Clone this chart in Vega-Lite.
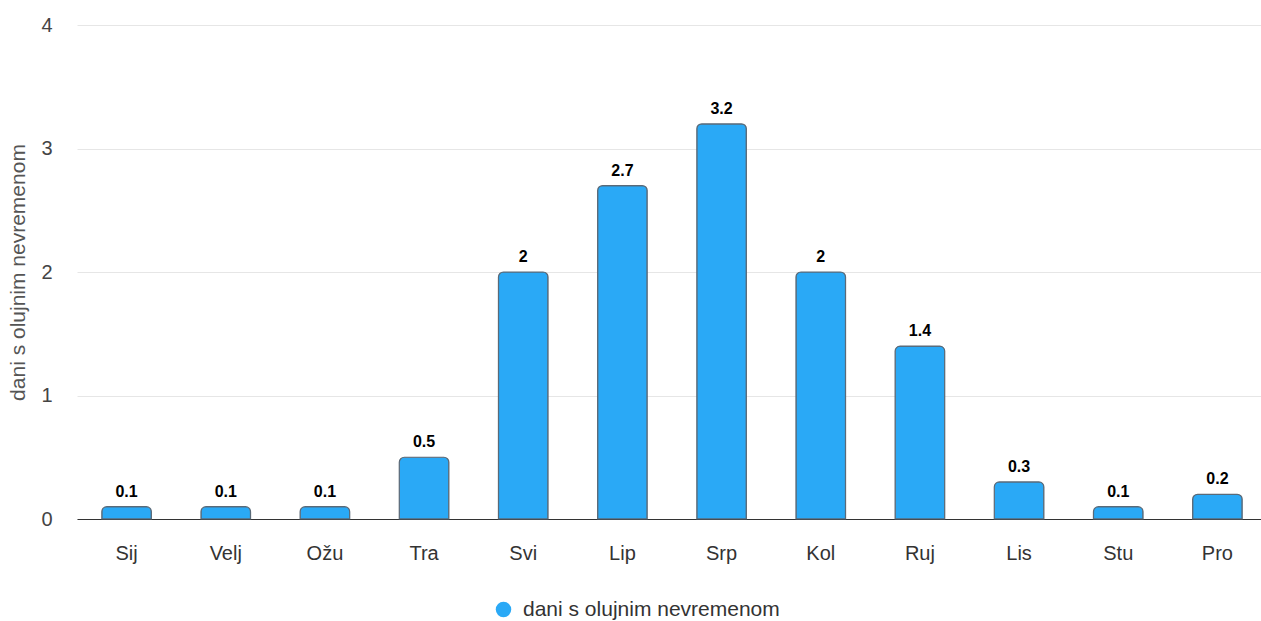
{
  "$schema": "https://vega.github.io/schema/vega-lite/v6.json",
  "width": 1184,
  "height": 494,
  "autosize": {"type": "none"},
  "padding": {"left": 77, "top": 25, "right": 0, "bottom": 102},
  "background": "white",
  "config": {
    "font": "Liberation Sans",
    "view": {"stroke": null}
  },
  "data": {
    "values": [
      {"mjesec": "Sij", "vrijednost": 0.1, "serija": "dani s olujnim nevremenom"},
      {"mjesec": "Velj", "vrijednost": 0.1, "serija": "dani s olujnim nevremenom"},
      {"mjesec": "Ožu", "vrijednost": 0.1, "serija": "dani s olujnim nevremenom"},
      {"mjesec": "Tra", "vrijednost": 0.5, "serija": "dani s olujnim nevremenom"},
      {"mjesec": "Svi", "vrijednost": 2, "serija": "dani s olujnim nevremenom"},
      {"mjesec": "Lip", "vrijednost": 2.7, "serija": "dani s olujnim nevremenom"},
      {"mjesec": "Srp", "vrijednost": 3.2, "serija": "dani s olujnim nevremenom"},
      {"mjesec": "Kol", "vrijednost": 2, "serija": "dani s olujnim nevremenom"},
      {"mjesec": "Ruj", "vrijednost": 1.4, "serija": "dani s olujnim nevremenom"},
      {"mjesec": "Lis", "vrijednost": 0.3, "serija": "dani s olujnim nevremenom"},
      {"mjesec": "Stu", "vrijednost": 0.1, "serija": "dani s olujnim nevremenom"},
      {"mjesec": "Pro", "vrijednost": 0.2, "serija": "dani s olujnim nevremenom"}
    ]
  },
  "encoding": {
    "x": {
      "field": "mjesec",
      "type": "nominal",
      "sort": null,
      "scale": {"range": [0, 1190], "paddingInner": 0.5, "paddingOuter": 0.25},
      "axis": {
        "title": null,
        "labelAngle": 0,
        "labelFontSize": 20,
        "labelColor": "#333333",
        "labelPadding": 24,
        "ticks": false,
        "domainColor": "#333333",
        "domainWidth": 1
      }
    },
    "y": {
      "field": "vrijednost",
      "type": "quantitative",
      "scale": {"domain": [0, 4], "nice": false},
      "axis": {
        "title": "dani s olujnim nevremenom",
        "titleFontSize": 21,
        "titleFontWeight": "normal",
        "titleColor": "#555555",
        "titlePadding": 12,
        "values": [0, 1, 2, 3, 4],
        "labelFontSize": 20,
        "labelColor": "#444444",
        "labelPadding": 25,
        "ticks": false,
        "domain": false,
        "gridColor": "#e6e6e6",
        "gridWidth": 1
      }
    }
  },
  "layer": [
    {
      "mark": {
        "type": "bar",
        "color": "#2aa9f6",
        "stroke": "#5a6a78",
        "strokeWidth": 1.2,
        "cornerRadiusTopLeft": 5,
        "cornerRadiusTopRight": 5
      },
      "encoding": {
        "fill": {
          "field": "serija",
          "type": "nominal",
          "scale": {"range": ["#2aa9f6"]},
          "legend": {
            "title": null,
            "orient": "none",
            "legendX": 416,
            "legendY": 574,
            "symbolType": "circle",
            "symbolSize": 240,
            "symbolStrokeWidth": 0,
            "labelFontSize": 21,
            "labelColor": "#333333",
            "labelOffset": 9,
            "labelLimit": 0
          }
        }
      }
    },
    {
      "mark": {
        "type": "text",
        "fontSize": 16,
        "fontWeight": "bold",
        "color": "#000000",
        "baseline": "alphabetic",
        "dy": -10
      },
      "encoding": {
        "text": {"field": "vrijednost", "type": "quantitative"}
      }
    }
  ]
}
